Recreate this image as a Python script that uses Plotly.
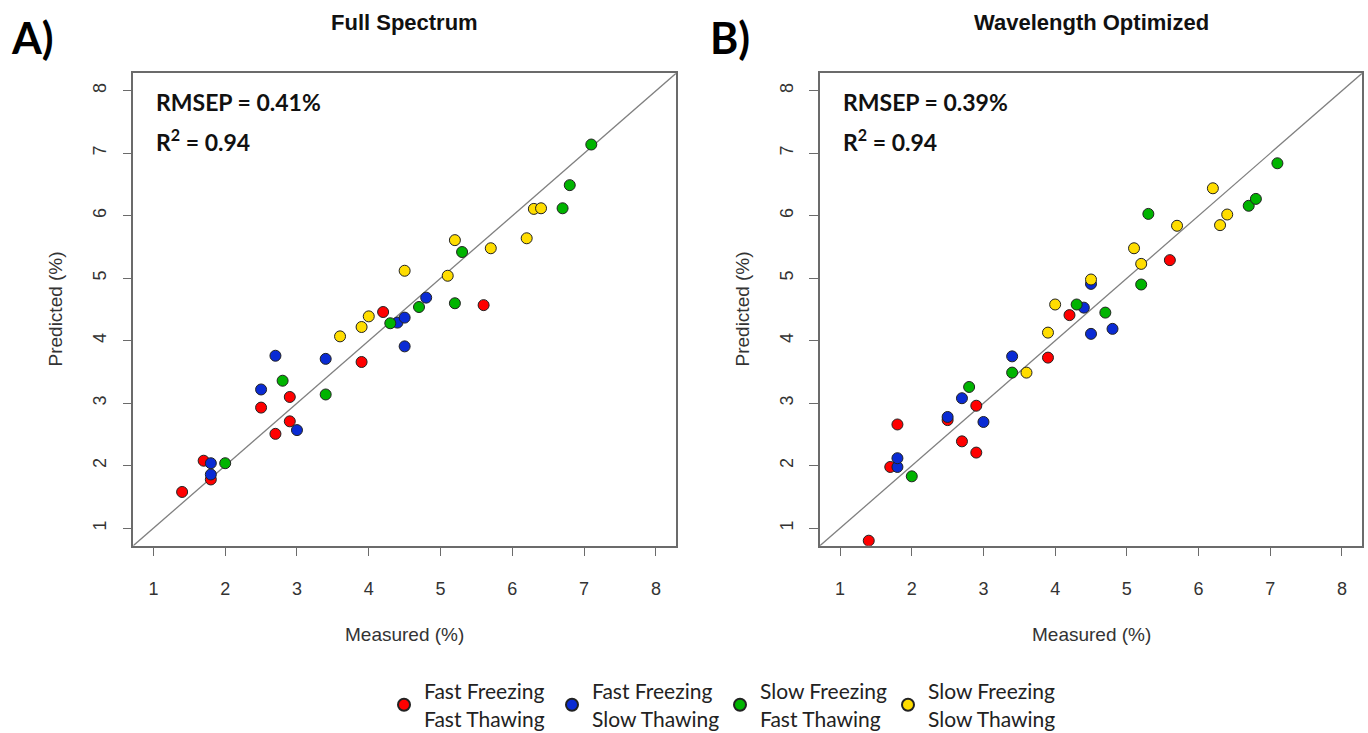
import plotly.graph_objects as go

W, H = 1368, 733

# ---- data ----
groups = ["Fast Freezing<br>Fast Thawing", "Fast Freezing<br>Slow Thawing",
          "Slow Freezing<br>Fast Thawing", "Slow Freezing<br>Slow Thawing"]
colors = ["#ff0000", "#0a2bd4", "#00b400", "#ffdd00"]

# measured values (shared by both panels)
meas_ffft = [1.4, 1.7, 1.8, 2.5, 2.7, 2.9, 2.9, 3.9, 4.2, 5.6]
meas_ffst = [1.8, 1.8, 2.5, 2.7, 3.0, 3.4, 4.4, 4.5, 4.5, 4.8]
meas_sfft = [2.0, 2.8, 3.4, 4.3, 4.7, 5.2, 5.3, 6.7, 6.8, 7.1]
meas_sfst = [3.6, 3.9, 4.0, 4.5, 5.1, 5.2, 5.7, 6.2, 6.3, 6.4]

# Panel A: full spectrum predictions
predA_ffft = [1.58, 2.08, 1.78, 2.93, 2.51, 3.10, 2.71, 3.66, 4.46, 4.57]
predA_ffst = [2.04, 1.86, 3.22, 3.76, 2.57, 3.71, 4.29, 4.37, 3.91, 4.69]
predA_sfft = [2.04, 3.36, 3.14, 4.28, 4.54, 4.60, 5.42, 6.12, 6.49, 7.14]
predA_sfst = [4.07, 4.22, 4.39, 5.12, 5.04, 5.61, 5.48, 5.64, 6.11, 6.12]

# Panel B: wavelength optimized predictions
predB_ffft = [0.80, 1.98, 2.66, 2.73, 2.39, 2.96, 2.21, 3.73, 4.41, 5.29]
predB_ffst = [1.98, 2.12, 2.78, 3.08, 2.70, 3.75, 4.53, 4.91, 4.11, 4.19]
predB_sfft = [1.83, 3.26, 3.49, 4.58, 4.45, 4.90, 6.03, 6.16, 6.27, 6.84]
predB_sfst = [3.49, 4.13, 4.58, 4.98, 5.48, 5.23, 5.84, 6.44, 5.85, 6.02]

ticks = [1, 2, 3, 4, 5, 6, 7, 8]
axis_range = [0.72, 8.28]
panel_titles = ["Full Spectrum", "Wavelength Optimized"]
panel_labels = ["A)", "B)"]
stats = [("0.41%", "0.94"), ("0.39%", "0.94")]

meas = [meas_ffft, meas_ffst, meas_sfft, meas_sfst]
preds = [[predA_ffft, predA_ffst, predA_sfft, predA_sfst],
         [predB_ffft, predB_ffst, predB_sfft, predB_sfst]]

# ---- layout geometry (pixels) ----
xdom = [[133.3 / W, 676 / W], [820 / W, 1362 / W]]
ydom = [1 - 545.7 / H, 1 - 73.3 / H]

fig = go.Figure()
axes = [("x", "y"), ("x2", "y2")]

for p in range(2):
    xa, ya = axes[p]
    fig.add_trace(go.Scatter(x=[0, 9], y=[0, 9], mode="lines",
                             line=dict(color="#808080", width=1.3),
                             xaxis=xa, yaxis=ya, showlegend=False, hoverinfo="skip"))
    for g in range(4):
        fig.add_trace(go.Scatter(
            x=meas[g], y=preds[p][g], mode="markers", name=groups[g],
            marker=dict(color=colors[g], size=11, line=dict(color="#222222", width=1)),
            xaxis=xa, yaxis=ya, legendgroup=str(g), showlegend=(p == 0)))

axis_common = dict(range=axis_range, tickvals=ticks, showgrid=False, zeroline=False,
                   showline=True, mirror=True, linecolor="#6b6b6b", linewidth=1.5,
                   ticks="outside", ticklen=9, tickwidth=1.3, tickcolor="#6b6b6b",
                   automargin=False,
                   tickfont=dict(family="Liberation Sans, Arial", size=18, color="#333333"))

layout = dict(width=W, height=H, margin=dict(l=0, r=0, t=0, b=0, autoexpand=False),
              paper_bgcolor="white", plot_bgcolor="white", showlegend=True,
              legend=dict(orientation="h", x=384 / W, xanchor="left",
                          y=1 - 705 / H, yanchor="middle",
                          font=dict(family="Lato, Liberation Sans", size=21, color="#222222"),
                          itemsizing="constant", entrywidth=123, entrywidthmode="pixels",
                          bgcolor="rgba(0,0,0,0)", valign="middle"))
layout["xaxis"] = dict(domain=xdom[0], anchor="y", ticklabelstandoff=17, **axis_common)
layout["yaxis"] = dict(domain=ydom, anchor="x", tickangle=-90, ticklabelstandoff=9, **axis_common)
layout["xaxis2"] = dict(domain=xdom[1], anchor="y2", ticklabelstandoff=17, **axis_common)
layout["yaxis2"] = dict(domain=ydom, anchor="x2", tickangle=-90, ticklabelstandoff=9, **axis_common)
fig.update_layout(**layout)

ann = []
for p in range(2):
    cx = (xdom[p][0] + xdom[p][1]) / 2
    ann.append(dict(text="<b>" + panel_titles[p] + "</b>", x=cx, y=1 - 22 / H,
                    xref="paper", yref="paper", showarrow=False,
                    xanchor="center", yanchor="middle",
                    font=dict(family="Liberation Sans, Arial", size=22, color="#111111")))
    ann.append(dict(text="<b>" + panel_labels[p] + "</b>", x=(9 if p == 0 else 708) / W,
                    y=1 - 37 / H, xref="paper", yref="paper", showarrow=False,
                    xanchor="left", yanchor="middle",
                    font=dict(family="Lato, Liberation Sans", size=43, color="#000000")))
    ann.append(dict(text="<b>RMSEP = " + stats[p][0] + "</b>",
                    x=xdom[p][0] + 21 / W, y=1 - 102 / H, xref="paper", yref="paper",
                    showarrow=False, xanchor="left", yanchor="middle",
                    font=dict(family="Lato, Liberation Sans", size=23, color="#111111")))
    ann.append(dict(text="<b>R<sup>2</sup> = " + stats[p][1] + "</b>",
                    x=xdom[p][0] + 21 / W, y=1 - 140 / H, xref="paper", yref="paper",
                    showarrow=False, xanchor="left", yanchor="middle",
                    font=dict(family="Lato, Liberation Sans", size=23, color="#111111")))
    ann.append(dict(text="Measured (%)", x=cx, y=1 - 634 / H, xref="paper", yref="paper",
                    showarrow=False, xanchor="center", yanchor="middle",
                    font=dict(family="Liberation Sans, Arial", size=19, color="#333333")))
    ann.append(dict(text="Predicted (%)", x=(55 if p == 0 else 742) / W,
                    y=(ydom[0] + ydom[1]) / 2, xref="paper", yref="paper",
                    showarrow=False, xanchor="center", yanchor="middle", textangle=-90,
                    font=dict(family="Liberation Sans, Arial", size=19, color="#333333")))
fig.update_layout(annotations=ann)

fig.write_html("out.html")
